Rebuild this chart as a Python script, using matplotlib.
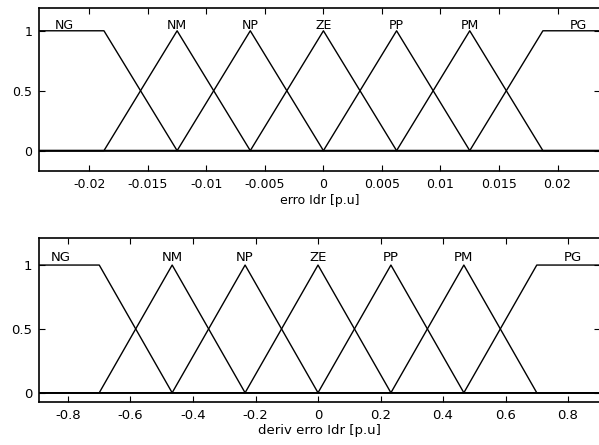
import numpy as np
import matplotlib
matplotlib.use("Agg")
import matplotlib.pyplot as plt

plt.rcParams['font.family'] = ['DejaVu Sans']

mf_names = ["NG", "NM", "NP", "ZE", "PP", "PM", "PG"]

# erro Idr membership functions (trapezoid a, b, c, d)
erro_lim = (-0.0243, 0.02363)
erro_mf = [
    [-0.0243, -0.0243, -0.01875, -0.0125],
    [-0.01875, -0.0125, -0.0125, -0.00625],
    [-0.0125, -0.00625, -0.00625, 0.0],
    [-0.00625, 0.0, 0.0, 0.00625],
    [0.0, 0.00625, 0.00625, 0.0125],
    [0.00625, 0.0125, 0.0125, 0.01875],
    [0.0125, 0.01875, 0.02363, 0.02363],
]
erro_label_x = [-0.0221, -0.0125, -0.00625, 0.0, 0.00625, 0.0125, 0.02175]
erro_ticks = [-0.02, -0.015, -0.01, -0.005, 0, 0.005, 0.01, 0.015, 0.02]
erro_ticklabels = ["-0.02", "-0.015", "-0.01", "-0.005", "0",
                   "0.005", "0.01", "0.015", "0.02"]

# deriv erro Idr membership functions
deriv_lim = (-0.8928, 0.9024)
deriv_mf = [
    [-0.8928, -0.8928, -0.7, -0.4667],
    [-0.7, -0.4667, -0.4667, -0.2333],
    [-0.4667, -0.2333, -0.2333, 0.0],
    [-0.2333, 0.0, 0.0, 0.2333],
    [0.0, 0.2333, 0.2333, 0.4667],
    [0.2333, 0.4667, 0.4667, 0.7],
    [0.4667, 0.7, 0.9024, 0.9024],
]
deriv_label_x = [-0.822, -0.4667, -0.2333, 0.0, 0.2333, 0.4667, 0.816]
deriv_ticks = [-0.8, -0.6, -0.4, -0.2, 0, 0.2, 0.4, 0.6, 0.8]
deriv_ticklabels = ["-0.8", "-0.6", "-0.4", "-0.2", "0", "0.2", "0.4", "0.6", "0.8"]

y_ticks = [0, 0.5, 1]
y_ticklabels = ["0", "0.5", "1"]


def trap_points(p, lim):
    a, b, c, d = p
    xs = [lim[0], a, b, c, d, lim[1]]
    ys = [0, 0, 1, 1, 0, 0]
    if a <= lim[0]:
        xs, ys = [lim[0], c, d, lim[1]], [1, 1, 0, 0]
    elif d >= lim[1]:
        xs, ys = [lim[0], a, b, lim[1]], [0, 0, 1, 1]
    return xs, ys


def draw_panel(ax, mfs, lim, label_x, label_y, ticks, ticklabels, ylim,
               xlabel, fs):
    for p in mfs:
        xs, ys = trap_points(p, lim)
        ax.plot(xs, ys, color="black", lw=1.0)
    for name, lx in zip(mf_names, label_x):
        ax.text(lx, label_y, name, ha="center", va="center", fontsize=fs)
    ax.set_xlim(lim)
    ax.set_ylim(ylim)
    ax.set_xticks(ticks)
    ax.set_xticklabels(ticklabels)
    ax.set_yticks(y_ticks)
    ax.set_yticklabels(y_ticklabels)
    ax.tick_params(direction="in", top=True, right=True, length=4,
                   width=0.8, labelsize=fs, pad=5)
    ax.set_xlabel(xlabel, fontsize=fs, labelpad=2)
    for s in ax.spines.values():
        s.set_linewidth(1.2)


fig = plt.figure(figsize=(5.99, 4.45), dpi=100)
ax1 = fig.add_axes([0.0651, 0.6157, 0.9366, 0.3663])
ax2 = fig.add_axes([0.0651, 0.0973, 0.9366, 0.3685])

draw_panel(ax1, erro_mf, erro_lim, erro_label_x, 1.046, erro_ticks,
           erro_ticklabels, (-0.17, 1.19), "erro Idr [p.u]", 9)
draw_panel(ax2, deriv_mf, deriv_lim, deriv_label_x, 1.063, deriv_ticks,
           deriv_ticklabels, (-0.07, 1.214), "deriv erro Idr [p.u]", 9.5)

fig.savefig("out.png", dpi=100)
